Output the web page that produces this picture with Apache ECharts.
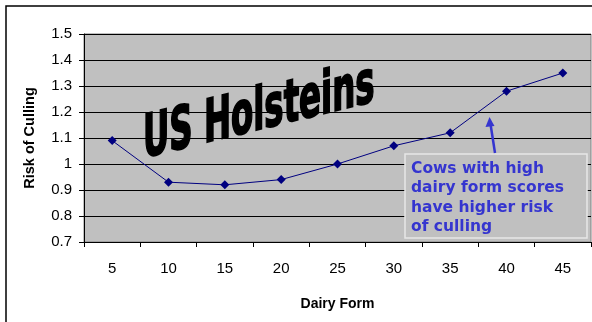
<!DOCTYPE html>
<html>
<head>
<meta charset="utf-8">
<script src="https://cdn.jsdelivr.net/npm/echarts@6/dist/echarts.min.js"></script>
<style>
  html, body { margin: 0; padding: 0; background: #ffffff; }
  #chart { width: 592px; height: 322px; }
</style>
</head>
<body>
<div id="chart"></div>
<script>
// Dairy form score categories and the relative culling risk at each score
const dairyForm = ['5', '10', '15', '20', '25', '30', '35', '40', '45'];
const riskOfCulling = [1.09, 0.93, 0.92, 0.94, 1.00, 1.07, 1.12, 1.28, 1.35];
const yTicks = { min: 0.7, max: 1.5, step: 0.1 };
const noteLines = ['Cows with high', 'dairy form scores', 'have higher risk', 'of culling'];

const chart = echarts.init(document.getElementById('chart'), null, { renderer: 'canvas' });

const noteColor = '#3535cf';

chart.setOption({
  animation: false,
  backgroundColor: '#ffffff',
  grid: { left: 84, top: 34, right: 1, bottom: 80, show: true, backgroundColor: '#c0c0c0', borderColor: '#808080', borderWidth: 1 },
  xAxis: {
    type: 'category',
    data: dairyForm,
    boundaryGap: true,
    name: 'Dairy Form',
    nameLocation: 'middle',
    nameGap: 55,
    nameTextStyle: { fontFamily: 'Liberation Sans', fontWeight: 'bold', fontSize: 14, color: '#000' },
    axisLine: { lineStyle: { color: '#000', width: 1 } },
    axisTick: { show: true, length: 5, lineStyle: { color: '#000' } },
    axisLabel: { fontFamily: 'Liberation Sans', fontSize: 15, color: '#000', margin: 19 }
  },
  yAxis: {
    type: 'value',
    min: yTicks.min,
    max: yTicks.max,
    interval: yTicks.step,
    name: 'Risk of Culling',
    nameLocation: 'middle',
    nameGap: 47,
    nameTextStyle: { fontFamily: 'Liberation Sans', fontWeight: 'bold', fontSize: 14.5, color: '#000' },
    axisLine: { show: true, lineStyle: { color: '#000', width: 1 } },
    axisTick: { show: true, length: 5, lineStyle: { color: '#000' } },
    axisLabel: {
      fontFamily: 'Liberation Sans', fontSize: 15, color: '#000', margin: 12,
      formatter: v => String(Math.round(v * 10) / 10)
    },
    splitLine: { show: true, lineStyle: { color: '#000', width: 1 } }
  },
  series: [{
    type: 'line',
    data: riskOfCulling,
    symbol: 'diamond',
    symbolSize: 9,
    lineStyle: { color: '#000080', width: 1 },
    itemStyle: { color: '#000080' },
    z: 5
  }],
  graphic: [
    // outer chart frame
    { type: 'rect', shape: { x: 6, y: 6, width: 620, height: 400 }, style: { fill: null, stroke: '#000', lineWidth: 1.5 }, z: 100, silent: true },
    // slanted WordArt-style heading
    {
      type: 'text', x: 143, y: 172, skewY: 0.24, scaleY: 1.65, z: 50,
      style: { text: 'US Holsteins', font: 'bold 36px "DejaVu Sans Condensed", "DejaVu Sans"', fill: '#000', stroke: '#000', lineWidth: 1.2, verticalAlign: 'bottom' }
    },
    // annotation box
    { type: 'rect', shape: { x: 405, y: 154, width: 182, height: 84 }, style: { fill: '#c0c0c0', stroke: '#e6e6e6', lineWidth: 1.5 }, z: 20 },
    {
      type: 'text', x: 411, y: 159, z: 21,
      style: { text: noteLines.join('\n'), font: 'bold 15.5px "DejaVu Sans"', lineHeight: 19.5, fill: noteColor }
    },
    // arrow pointing at the upper part of the curve
    { type: 'line', shape: { x1: 495, y1: 153, x2: 490.5, y2: 124 }, style: { stroke: noteColor, lineWidth: 2.5 }, z: 21 },
    { type: 'polygon', shape: { points: [[489.5, 117], [485.5, 127], [494.5, 126]] }, style: { fill: noteColor }, z: 21 }
  ]
});
</script>
</body>
</html>
